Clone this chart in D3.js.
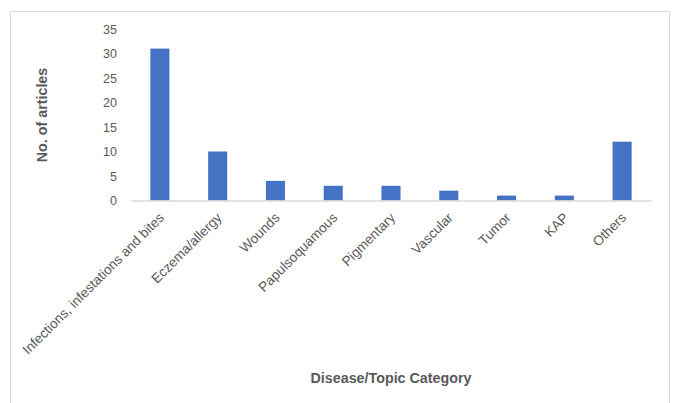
<!DOCTYPE html>
<html>
<head>
<meta charset="utf-8">
<script src="https://cdn.jsdelivr.net/npm/d3@7"></script>
<style>
  html, body { margin: 0; padding: 0; background: #fff; }
  svg { display: block; }
  text { font-family: "Liberation Sans", "DejaVu Sans", sans-serif; fill: #595959; }
</style>
</head>
<body>
<svg id="chart" width="673" height="403"></svg>
<script>
// Articles per disease / topic category
const categories = [
  "Infections, infestations and bites",
  "Eczema/allergy",
  "Wounds",
  "Papulsoquamous",
  "Pigmentary",
  "Vascular",
  "Tumor",
  "KAP",
  "Others"
];
const articleCounts = [31, 10, 4, 3, 3, 2, 1, 1, 12];
const yTicks = [0, 5, 10, 15, 20, 25, 30, 35];
const xTitle = "Disease/Topic Category";
const yTitle = "No. of articles";

const svg = d3.select("#chart");

// Chart frame
svg.append("rect")
  .attr("x", 10.5).attr("y", 11.5)
  .attr("width", 659).attr("height", 400)
  .attr("fill", "#fff")
  .attr("stroke", "#d9d9d9");

const plot = { left: 131, right: 651, top: 29, bottom: 200.5 };

const x = d3.scaleBand()
  .domain(categories)
  .range([plot.left, plot.right])
  .paddingInner(0.67)
  .paddingOuter(0.335);

const y = d3.scaleLinear()
  .domain([0, 35])
  .range([plot.bottom, plot.top]);

// Bars
svg.append("g").selectAll("rect")
  .data(categories)
  .join("rect")
  .attr("x", d => x(d))
  .attr("width", x.bandwidth())
  .attr("y", (d, i) => y(articleCounts[i]))
  .attr("height", (d, i) => y(0) - y(articleCounts[i]))
  .attr("fill", "#4472c4");

// Y axis (labels only)
const yAxis = svg.append("g")
  .attr("transform", `translate(${plot.left - 14},0)`)
  .call(d3.axisLeft(y).tickValues(yTicks).tickSize(0).tickPadding(0));
yAxis.select(".domain").remove();
yAxis.selectAll("text")
  .attr("font-size", 12.5)
  .attr("font-family", null);

// X axis baseline and rotated labels
const xAxis = svg.append("g")
  .attr("transform", `translate(0,${plot.bottom})`)
  .call(d3.axisBottom(x).tickSize(0).tickPadding(0));
xAxis.select(".domain").attr("stroke", "#d9d9d9").attr("stroke-width", 1.5);
xAxis.selectAll(".tick text")
  .attr("font-size", 13.6)
  .attr("font-family", null)
  .attr("text-anchor", "end")
  .attr("dy", 0)
  .attr("transform", "translate(5,18) rotate(-45)");

// Axis titles
svg.append("text")
  .attr("x", 391).attr("y", 383)
  .attr("text-anchor", "middle")
  .attr("font-size", 14.3)
  .attr("font-weight", "bold")
  .text(xTitle);

svg.append("text")
  .attr("transform", "translate(47,115) rotate(-90)")
  .attr("text-anchor", "middle")
  .attr("font-size", 14.3)
  .attr("font-weight", "bold")
  .text(yTitle);
</script>
</body>
</html>
